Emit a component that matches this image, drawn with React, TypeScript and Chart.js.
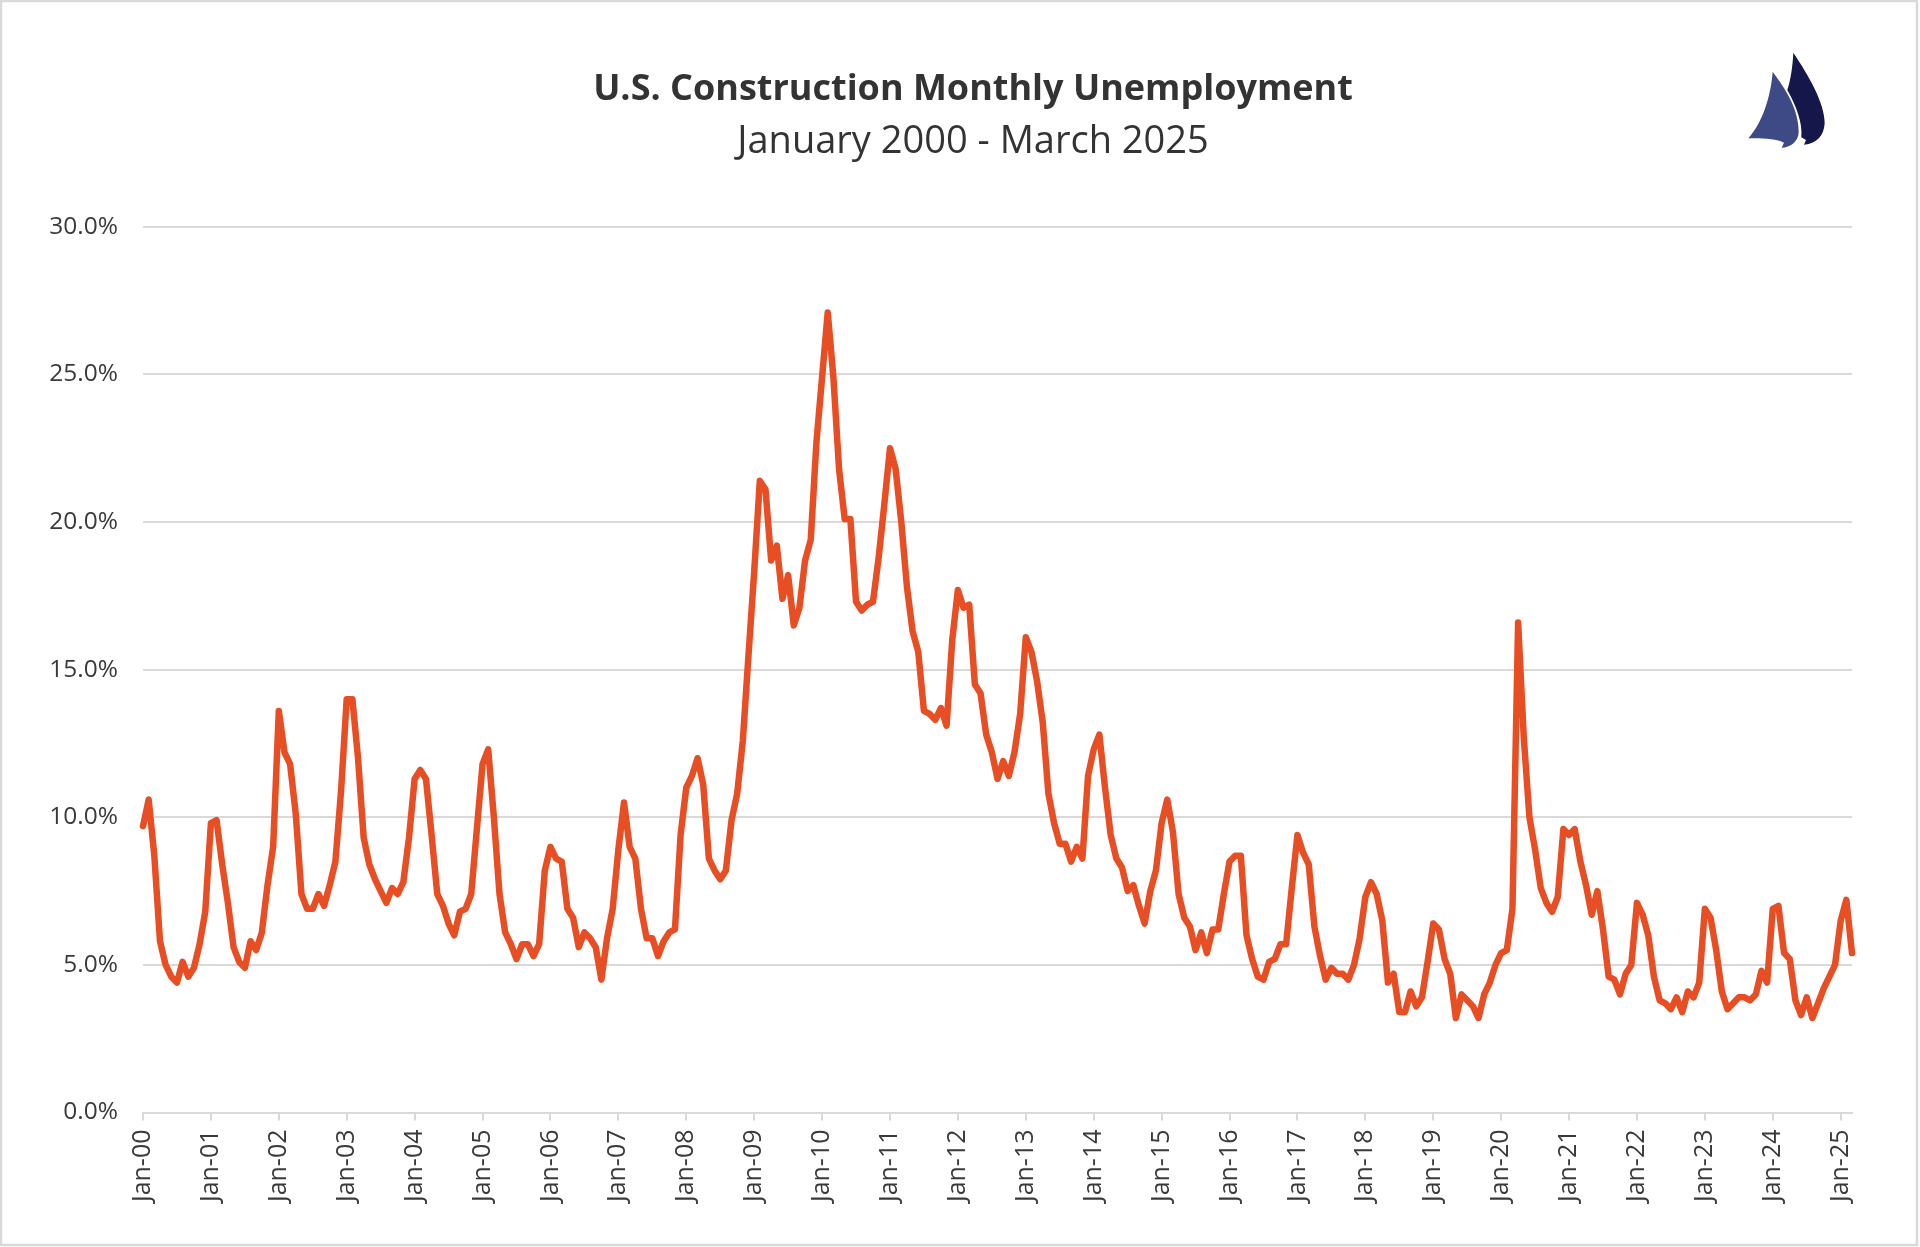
import React, { useEffect, useRef } from "react";
import Chart from "chart.js/auto";

// Unemployment rate (%), one list per year, January first
const y2000 = [9.7, 10.6, 8.7, 5.8, 5.0, 4.6, 4.4, 5.1, 4.6, 4.9, 5.7, 6.8];
const y2001 = [9.8, 9.9, 8.4, 7.1, 5.6, 5.1, 4.9, 5.8, 5.5, 6.1, 7.7, 9.0];
const y2002 = [13.6, 12.2, 11.8, 10.1, 7.4, 6.9, 6.9, 7.4, 7.0, 7.7, 8.5, 10.9];
const y2003 = [14.0, 14.0, 12.0, 9.3, 8.4, 7.9, 7.5, 7.1, 7.6, 7.4, 7.8, 9.3];
const y2004 = [11.3, 11.6, 11.3, 9.4, 7.4, 7.0, 6.4, 6.0, 6.8, 6.9, 7.4, 9.6];
const y2005 = [11.8, 12.3, 10.0, 7.4, 6.1, 5.7, 5.2, 5.7, 5.7, 5.3, 5.7, 8.2];
const y2006 = [9.0, 8.6, 8.5, 6.9, 6.6, 5.6, 6.1, 5.9, 5.6, 4.5, 5.9, 6.9];
const y2007 = [8.9, 10.5, 9.0, 8.6, 6.9, 5.9, 5.9, 5.3, 5.8, 6.1, 6.2, 9.4];
const y2008 = [11.0, 11.4, 12.0, 11.1, 8.6, 8.2, 7.9, 8.2, 9.9, 10.8, 12.6, 15.5];
const y2009 = [18.3, 21.4, 21.1, 18.7, 19.2, 17.4, 18.2, 16.5, 17.1, 18.7, 19.4, 22.7];
const y2010 = [24.9, 27.1, 24.9, 21.8, 20.1, 20.1, 17.3, 17.0, 17.2, 17.3, 18.8, 20.6];
const y2011 = [22.5, 21.8, 20.0, 17.8, 16.3, 15.6, 13.6, 13.5, 13.3, 13.7, 13.1, 16.0];
const y2012 = [17.7, 17.1, 17.2, 14.5, 14.2, 12.8, 12.2, 11.3, 11.9, 11.4, 12.2, 13.5];
const y2013 = [16.1, 15.6, 14.6, 13.2, 10.8, 9.8, 9.1, 9.1, 8.5, 9.0, 8.6, 11.4];
const y2014 = [12.3, 12.8, 11.0, 9.4, 8.6, 8.3, 7.5, 7.7, 7.0, 6.4, 7.5, 8.2];
const y2015 = [9.8, 10.6, 9.5, 7.4, 6.6, 6.3, 5.5, 6.1, 5.4, 6.2, 6.2, 7.4];
const y2016 = [8.5, 8.7, 8.7, 6.0, 5.2, 4.6, 4.5, 5.1, 5.2, 5.7, 5.7, 7.6];
const y2017 = [9.4, 8.8, 8.4, 6.3, 5.3, 4.5, 4.9, 4.7, 4.7, 4.5, 5.0, 5.9];
const y2018 = [7.3, 7.8, 7.4, 6.5, 4.4, 4.7, 3.4, 3.4, 4.1, 3.6, 3.9, 5.1];
const y2019 = [6.4, 6.2, 5.2, 4.7, 3.2, 4.0, 3.8, 3.6, 3.2, 4.0, 4.4, 5.0];
const y2020 = [5.4, 5.5, 6.9, 16.6, 12.7, 10.0, 8.9, 7.6, 7.1, 6.8, 7.3, 9.6];
const y2021 = [9.4, 9.6, 8.5, 7.7, 6.7, 7.5, 6.2, 4.6, 4.5, 4.0, 4.7, 5.0];
const y2022 = [7.1, 6.7, 6.0, 4.6, 3.8, 3.7, 3.5, 3.9, 3.4, 4.1, 3.9, 4.4];
const y2023 = [6.9, 6.6, 5.5, 4.1, 3.5, 3.7, 3.9, 3.9, 3.8, 4.0, 4.8, 4.4];
const y2024 = [6.9, 7.0, 5.4, 5.2, 3.8, 3.3, 3.9, 3.2, 3.7, 4.2, 4.6, 5.0];
const y2025 = [6.5, 7.2, 5.4];

const years = [
  y2000, y2001, y2002, y2003, y2004, y2005, y2006, y2007, y2008, y2009, y2010, y2011, y2012,
  y2013, y2014, y2015, y2016, y2017, y2018, y2019, y2020, y2021, y2022, y2023, y2024, y2025,
];
const monthNames = ["Jan", "Feb", "Mar", "Apr", "May", "Jun", "Jul", "Aug", "Sep", "Oct", "Nov", "Dec"];

const rates = years.flat();
const labels = years.flatMap((months, i) =>
  months.map((_, m) => `${monthNames[m]}-${String(i).padStart(2, "0")}`)
);

const GRID = "#d9d9d9";
const TEXT = "#3a3a3a";

// frame round the picture
const framePlugin = {
  id: "frame",
  beforeDraw(chart: any) {
    const { ctx, width, height } = chart;
    ctx.save();
    ctx.fillStyle = "#ffffff";
    ctx.fillRect(0, 0, width, height);
    ctx.strokeStyle = GRID;
    ctx.lineWidth = 2.5;
    ctx.strokeRect(1, 1, width - 4, height - 3);
    ctx.restore();
  },
};

// the two sails in the top right corner
const logoPlugin = {
  id: "logo",
  afterDraw(chart: any) {
    const ctx = chart.ctx;
    ctx.save();
    ctx.translate(1730, 40);
    ctx.scale(1 / 3, 1 / 3);

    ctx.fillStyle = "#15164a";
    ctx.beginPath();
    ctx.moveTo(190, 38);
    ctx.bezierCurveTo(235, 105, 285, 190, 284, 250);
    ctx.bezierCurveTo(282, 285, 262, 312, 222, 314);
    ctx.lineTo(228, 300);
    ctx.lineTo(214, 292);
    ctx.bezierCurveTo(218, 250, 200, 200, 172, 150);
    ctx.bezierCurveTo(182, 120, 188, 80, 190, 38);
    ctx.closePath();
    ctx.fill();

    ctx.fillStyle = "#3d4a85";
    ctx.beginPath();
    ctx.moveTo(128, 95);
    ctx.bezierCurveTo(165, 145, 206, 205, 206, 275);
    ctx.bezierCurveTo(206, 305, 180, 322, 155, 323);
    ctx.lineTo(162, 308);
    ctx.bezierCurveTo(140, 296, 95, 294, 55, 295);
    ctx.bezierCurveTo(95, 250, 122, 175, 128, 95);
    ctx.closePath();
    ctx.fill();
    ctx.restore();
  },
};

export default function App() {
  const canvasRef = useRef<HTMLCanvasElement>(null!);

  useEffect(() => {
    document.body.style.margin = "0";

    const chart = new Chart(canvasRef.current, {
      type: "line",
      data: {
        labels,
        datasets: [
          {
            data: rates,
            borderColor: "#e84e23",
            borderWidth: 6.5,
            borderJoinStyle: "round",
            borderCapStyle: "round",
            pointRadius: 0,
            tension: 0,
            clip: false,
          },
        ],
      },
      options: {
        responsive: false,
        animation: false,
        // left padding only moves the centre of the titles to the right
        layout: { padding: { left: 26, right: 0, top: 68, bottom: 0 } },
        plugins: {
          legend: { display: false },
          tooltip: { enabled: false },
          title: {
            display: true,
            text: "U.S. Construction Monthly Unemployment",
            color: "#333333",
            font: { family: "'Open Sans'", size: 36, weight: "bold" },
            padding: { top: 0, bottom: 8 },
          },
          subtitle: {
            display: true,
            text: "January 2000 - March 2025",
            color: "#333333",
            font: { family: "'Open Sans'", size: 38, weight: "normal" },
            padding: { top: 0, bottom: 62 },
          },
        },
        scales: {
          x: {
            offset: false,
            afterFit(scale: any) {
              scale.height = 134.5;
            },
            grid: {
              color: GRID,
              lineWidth: 2,
              drawOnChartArea: false,
              drawTicks: true,
              tickLength: 8,
            },
            border: { color: GRID, width: 2 },
            ticks: {
              autoSkip: false,
              minRotation: 90,
              maxRotation: 90,
              padding: 9,
              color: TEXT,
              font: { family: "'Open Sans'", size: 25 },
              // only the Januaries are labelled and get a tick mark
              callback(_value: any, index: number) {
                return index % 12 === 0 ? labels[index] : null;
              },
            },
          },
          y: {
            min: 0,
            max: 30,
            afterFit(scale: any) {
              scale.width = 117;
            },
            grid: { color: GRID, lineWidth: 2, drawTicks: false },
            border: { display: false },
            ticks: {
              stepSize: 5,
              padding: 25,
              color: TEXT,
              font: { family: "'Open Sans'", size: 24.5 },
              callback(value: any) {
                return Number(value).toFixed(1) + "%";
              },
            },
          },
          // empty axis that holds the white margin on the right of the plot
          rightMargin: {
            position: "right",
            min: 0,
            max: 30,
            afterFit(scale: any) {
              scale.width = 68;
            },
            grid: { display: false },
            border: { display: false },
            ticks: { display: false },
          },
        },
      },
      plugins: [framePlugin, logoPlugin],
    } as any);

    return () => {
      chart.destroy();
    };
  }, []);

  return <canvas ref={canvasRef} width={1920} height={1247} style={{ display: "block" }} />;
}
